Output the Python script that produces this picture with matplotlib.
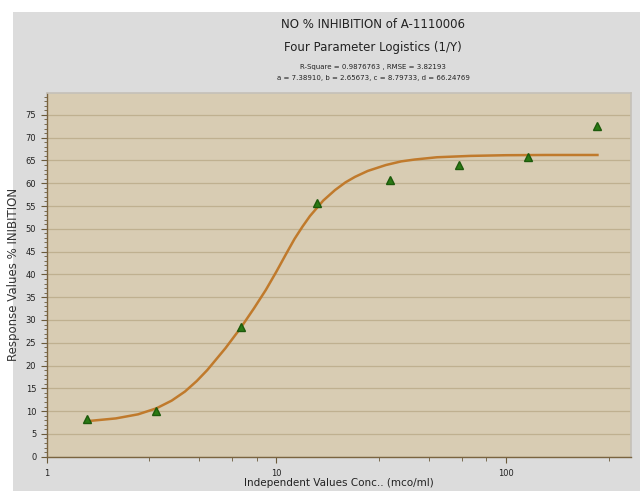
import numpy as np
import matplotlib
matplotlib.use('Agg')
import matplotlib.pyplot as plt
from matplotlib.patches import Rectangle
from matplotlib.ticker import FixedLocator, NullFormatter

plt.rcParams['font.family'] = ['DejaVu Sans']

# measured points
conc = [1.5, 3.0, 7.0, 15.0, 31.25, 62.5, 125.0, 250.0]
inhibition = [8.3, 10.1, 28.4, 55.6, 60.8, 64.1, 65.8, 72.6]

# fitted 4PL curve
curve_x = [1.5, 2.0, 2.5, 3.0, 3.5, 4.0, 4.5, 5.0, 6.0, 7.0, 8.0, 9.0, 10, 11,
           12, 13, 14, 16, 18, 20, 22, 25, 30, 35, 40, 50, 70, 100, 150, 250]
curve_y = [7.8, 8.4, 9.3, 10.6, 12.3, 14.3, 16.6, 19.0, 23.8, 28.3, 32.6,
           36.6, 40.6, 44.4, 47.8, 50.5, 52.8, 56.2, 58.5, 60.2, 61.4, 62.7,
           64.0, 64.8, 65.2, 65.7, 66.0, 66.15, 66.2, 66.2]

yticks = list(range(0, 80, 5))
xticks_major = [1, 10, 100]
xticks_minor = [2.8, 4.6, 6.4, 8.2, 28, 46, 64, 82, 280]

fig = plt.figure(figsize=(6.4, 4.91), dpi=100)
fig.patch.set_facecolor('white')
fig.patches.append(Rectangle((13 / 640, 0), 1, 1 - 12 / 491, transform=fig.transFigure,
                             facecolor='#dcdcdc', edgecolor='none', zorder=-10))

ax = fig.add_axes([46.7 / 640, 1 - 456.7 / 491, (631 - 46.7) / 640, (456.7 - 93) / 491])
ax.set_facecolor('#d8ccb3')

ax.set_xscale('log')
ax.set_xlim(1, 350)
ax.set_ylim(0, 79.8)

ax.xaxis.set_major_locator(FixedLocator(xticks_major))
ax.xaxis.set_minor_locator(FixedLocator(xticks_minor))
ax.xaxis.set_minor_formatter(NullFormatter())
ax.set_xticklabels([str(v) for v in xticks_major])
ax.set_yticks(yticks)
ax.yaxis.set_minor_locator(FixedLocator(np.arange(0, 80, 1)))

ax.tick_params(axis='both', which='major', labelsize=6, color='#6a5a3a', length=4,
               width=0.8, labelcolor='#222222')
ax.tick_params(axis='both', which='minor', color='#6a5a3a', length=2, width=0.6)
ax.tick_params(axis='x', which='minor', length=3)
ax.tick_params(axis='x', which='major', pad=5)

ax.grid(axis='y', which='major', color='#bfb090', linewidth=0.9)
ax.set_axisbelow(True)

for s in ['left', 'bottom']:
    ax.spines[s].set_color('#7a6440')
    ax.spines[s].set_linewidth(1.0)
for s in ['top', 'right']:
    ax.spines[s].set_color('#c4c0b8')
    ax.spines[s].set_linewidth(1.2)

ax.plot(curve_x, curve_y, color='#c07a2c', linewidth=1.8, zorder=3)
ax.plot(conc, inhibition, linestyle='none', marker='^', markersize=5.5,
        color='#2a7a14', markeredgecolor='#1d5a0c', zorder=4)

ax.set_ylabel('Response Values % INIBITION', fontsize=8.5, color='#333333')
ax.yaxis.set_label_coords(-0.046, 0.5)
ax.set_xlabel('Independent Values Conc.. (mco/ml)', fontsize=7.5, color='#222222')
ax.xaxis.set_label_coords(0.5, -0.058)

tx = 373 / 640
fig.text(tx, 1 - 24 / 491, 'NO % INHIBITION of A-1110006', ha='center', va='center',
         fontsize=8.5, color='#222222')
fig.text(tx, 1 - 48 / 491, 'Four Parameter Logistics (1/Y)', ha='center', va='center',
         fontsize=8.5, color='#222222')
fig.text(tx, 1 - 67 / 491, 'R-Square = 0.9876763 , RMSE = 3.82193', ha='center', va='center',
         fontsize=5, color='#222222')
fig.text(tx, 1 - 78 / 491, 'a = 7.38910, b = 2.65673, c = 8.79733, d = 66.24769', ha='center',
         va='center', fontsize=5, color='#222222')

fig.savefig('out.png', dpi=100)
